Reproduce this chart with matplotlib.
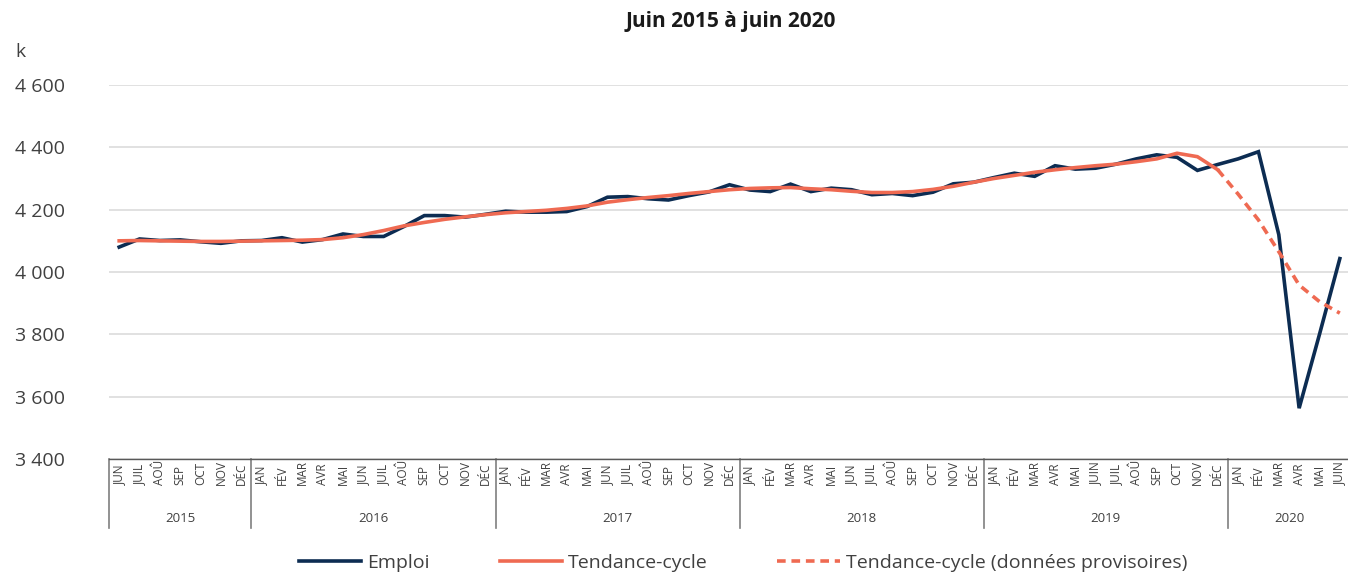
import numpy as np
import matplotlib
matplotlib.use("Agg")
import matplotlib.pyplot as plt
import matplotlib.transforms as mtransforms
from matplotlib.ticker import FuncFormatter

plt.rcParams['font.family'] = ['Open Sans', 'DejaVu Sans']

title = "Juin 2015 à juin 2020"
unit_label = "k"

years = ["2015", "2016", "2017", "2018", "2019", "2020"]
months_by_year = [
    ["JUN", "JUIL", "AOÛ", "SEP", "OCT", "NOV", "DÉC"],
    ["JAN", "FÉV", "MAR", "AVR", "MAI", "JUN", "JUIL", "AOÛ", "SEP", "OCT", "NOV", "DÉC"],
    ["JAN", "FÉV", "MAR", "AVR", "MAI", "JUN", "JUIL", "AOÛ", "SEP", "OCT", "NOV", "DÉC"],
    ["JAN", "FÉV", "MAR", "AVR", "MAI", "JUN", "JUIL", "AOÛ", "SEP", "OCT", "NOV", "DÉC"],
    ["JAN", "FÉV", "MAR", "AVR", "MAI", "JUIN", "JUIL", "AOÛ", "SEP", "OCT", "NOV", "DÉC"],
    ["JAN", "FÉV", "MAR", "AVR", "MAI", "JUIN"],
]

emploi = [
    4080, 4106, 4101, 4103, 4097, 4092, 4100,
    4101, 4110, 4096, 4104, 4122, 4114, 4114, 4146, 4181, 4181, 4176, 4185,
    4195, 4192, 4192, 4194, 4210, 4240, 4242, 4235, 4231, 4245, 4257, 4280,
    4263, 4258, 4282, 4258, 4269, 4264, 4248, 4252, 4245, 4256, 4283, 4288,
    4303, 4317, 4307, 4341, 4330, 4333, 4346, 4363, 4376, 4368, 4326, 4345,
    4363, 4386, 4120, 3563, 3800, 4043,
]

# Tendance-cycle, June 2015 to December 2019
tendance = [
    4100, 4101, 4100, 4099, 4098, 4098, 4099,
    4100, 4101, 4102, 4104, 4110, 4120, 4133, 4148, 4159, 4169, 4177, 4184,
    4190, 4194, 4198, 4204, 4212, 4224, 4232, 4239, 4245, 4252, 4258, 4264,
    4268, 4270, 4271, 4267, 4264, 4259, 4255, 4255, 4258, 4265, 4275, 4288,
    4300, 4310, 4320, 4328, 4335, 4341, 4346, 4354, 4363, 4381, 4370, 4328,
]
# Tendance-cycle (données provisoires), December 2019 to June 2020
tendance_provisoire = [4328, 4250, 4167, 4065, 3958, 3905, 3868]

y_ticks = [3400, 3600, 3800, 4000, 4200, 4400, 4600]

series_labels = ["Emploi", "Tendance-cycle", "Tendance-cycle (données provisoires)"]

NAVY = "#0c2c52"
CORAL = "#ef6a52"
GRID = "#d9d9d9"
TXT = "#404040"

month_labels = [m for ms in months_by_year for m in ms]
n = len(month_labels)
x = np.arange(n)
x_tend = x[:len(tendance)]
x_prov = x[len(tendance) - 1:len(tendance) - 1 + len(tendance_provisoire)]

W, H = 1348, 576
fig = plt.figure(figsize=(W / 100, H / 100), dpi=100)
left_px, right_px, top_px, bottom_px = 109, 1350, 85, 459
ax = fig.add_axes([left_px / W, 1 - bottom_px / H, (right_px - left_px) / W, (bottom_px - top_px) / H])

ax.plot(x, emploi, color=NAVY, lw=2.6, solid_joinstyle='miter', label=series_labels[0], zorder=3)
ax.plot(x_tend, tendance, color=CORAL, lw=2.6, label=series_labels[1], zorder=4)
ax.plot(x_prov, tendance_provisoire, color=CORAL, lw=2.6, dashes=(2.4, 1.6),
        label=series_labels[2], zorder=4)

ax.set_xlim(-0.5, n - 0.5)
ax.set_ylim(y_ticks[0], y_ticks[-1])
ax.set_yticks(y_ticks)
ax.yaxis.set_major_formatter(FuncFormatter(lambda v, p: f"{int(v):,}".replace(",", " ")))
ax.tick_params(axis='y', length=0, pad=31.5, labelsize=14, labelcolor=TXT)
ax.grid(axis='y', color=GRID, lw=1.1)
ax.set_axisbelow(True)
for s in ['top', 'right', 'left']:
    ax.spines[s].set_visible(False)
ax.spines['bottom'].set_color('#595959')
ax.spines['bottom'].set_linewidth(1.0)
ax.set_xticks([])

# month labels
trans = mtransforms.blended_transform_factory(ax.transData, fig.transFigure)
y_month = 1 - 485 / H
for xi, m in zip(x, month_labels):
    ax.text(xi, y_month, m, transform=trans, rotation=90, rotation_mode='anchor',
            ha='left', va='center', fontsize=8.5, color=TXT, clip_on=False)

# year labels and separators
y_year = 1 - 518 / H
y_sep_bottom = 1 - 528 / H
y_sep_top = 1 - bottom_px / H
start = 0
bounds = [start - 0.5]
for yr, ms in zip(years, months_by_year):
    end = start + len(ms)
    ax.text((start + end - 1) / 2, y_year, yr, transform=trans, ha='center', va='center',
            fontsize=9.5, color=TXT, clip_on=False)
    bounds.append(end - 0.5)
    start = end
for b in bounds:
    ax.plot([b, b], [y_sep_top, y_sep_bottom], transform=trans, color='#7f7f7f', lw=1.2,
            clip_on=False)

fig.text(15 / W, 1 - 52 / H, unit_label, fontsize=14, color=TXT, ha='left', va='center')
fig.text(731 / W, 1 - 22 / H, title, fontsize=15, fontweight='bold', color='#1a1a1a',
         ha='center', va='center')

leg = fig.legend(loc='center', bbox_to_anchor=(743 / W, 1 - 563 / H), ncol=3, frameon=False,
                 fontsize=14, handlelength=3.2, handletextpad=0.3, columnspacing=3.6,
                 labelcolor=TXT)

fig.savefig("out.png", dpi=100)
